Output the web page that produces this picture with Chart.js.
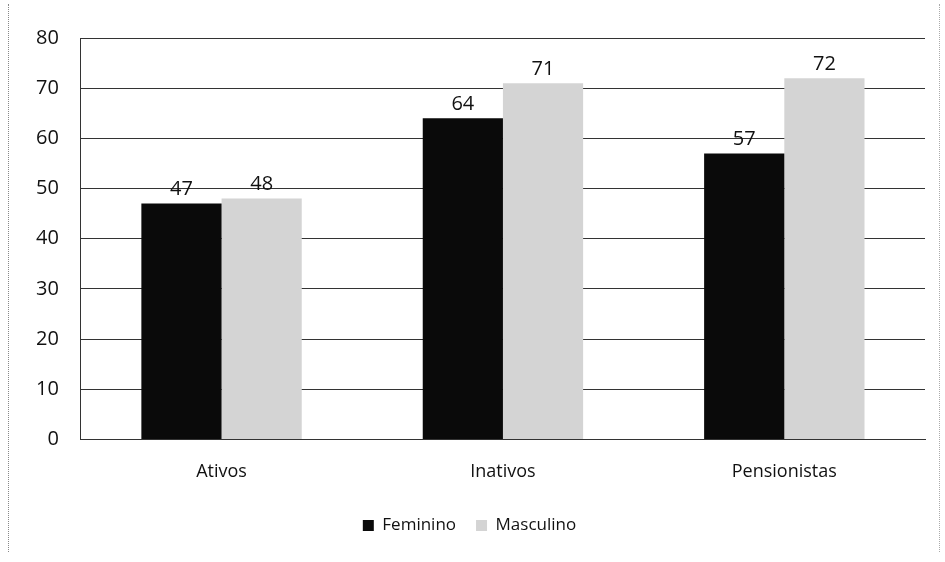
<!DOCTYPE html>
<html>
<head>
<meta charset="utf-8">
<script src="https://cdn.jsdelivr.net/npm/chart.js@4.4.0/dist/chart.umd.min.js"></script>
<style>
  html, body { margin: 0; padding: 0; background: #fff; }
  #wrap { position: relative; width: 945px; height: 562px; }
  #frame { position: absolute; left: 8px; top: 4px; width: 930px; height: 548px; border-left: 1px dotted #888; border-right: 1px dotted #aaa; }
</style>
</head>
<body>
<div id="wrap">
  <div id="frame"></div>
  <canvas id="chart" width="945" height="562"></canvas>
</div>
<script>
const categories = ['Ativos', 'Inativos', 'Pensionistas'];
const feminino = [47, 64, 57];
const masculino = [48, 71, 72];
const yTicks = [0, 10, 20, 30, 40, 50, 60, 70, 80];

// draw the value above each bar
const valueLabels = {
    id: 'valueLabels',
    afterDatasetsDraw(chart) {
        const ctx = chart.ctx;
        ctx.save();
        ctx.font = '20px "Open Sans", sans-serif';
        ctx.fillStyle = '#111';
        ctx.textAlign = 'center';
        ctx.textBaseline = 'bottom';
        chart.data.datasets.forEach((ds, i) => {
            chart.getDatasetMeta(i).data.forEach((bar, j) => {
                ctx.fillText(ds.data[j], bar.x, bar.y - 4);
            });
        });
        ctx.restore();
    }
};

const ctx = document.getElementById('chart').getContext('2d');
new Chart(ctx, {
    type: 'bar',
    data: {
        labels: categories,
        datasets: [{
            label: 'Feminino',
            data: feminino,
            backgroundColor: '#0a0a0a',
            borderWidth: 0
        }, {
            label: 'Masculino',
            data: masculino,
            backgroundColor: '#d4d4d4',
            borderWidth: 0
        }]
    },
    options: {
        responsive: false,
        animation: false,
        layout: { padding: { left: 14, right: 20, top: 38, bottom: 18 } },
        categoryPercentage: 0.57,
        barPercentage: 1.0,
        scales: {
            y: {
                min: 0,
                max: 80,
                afterBuildTicks: axis => { axis.ticks = yTicks.map(v => ({ value: v })); },
                grid: { color: '#333', lineWidth: 1, drawTicks: false },
                border: { display: true, color: '#333' },
                ticks: {
                    color: '#111',
                    padding: 22,
                    font: { family: '"Open Sans", sans-serif', size: 20 }
                }
            },
            x: {
                grid: { display: false },
                border: { display: true, color: '#333' },
                ticks: {
                    color: '#111',
                    padding: 14,
                    font: { family: '"Open Sans", sans-serif', size: 18 }
                }
            }
        },
        plugins: {
            legend: {
                position: 'bottom',
                labels: {
                    color: '#111',
                    boxWidth: 11,
                    boxHeight: 11,
                    padding: 20,
                    font: { family: '"Open Sans", sans-serif', size: 17 }
                }
            },
            tooltip: { enabled: false }
        }
    },
    plugins: [valueLabels]
});
</script>
</body>
</html>
